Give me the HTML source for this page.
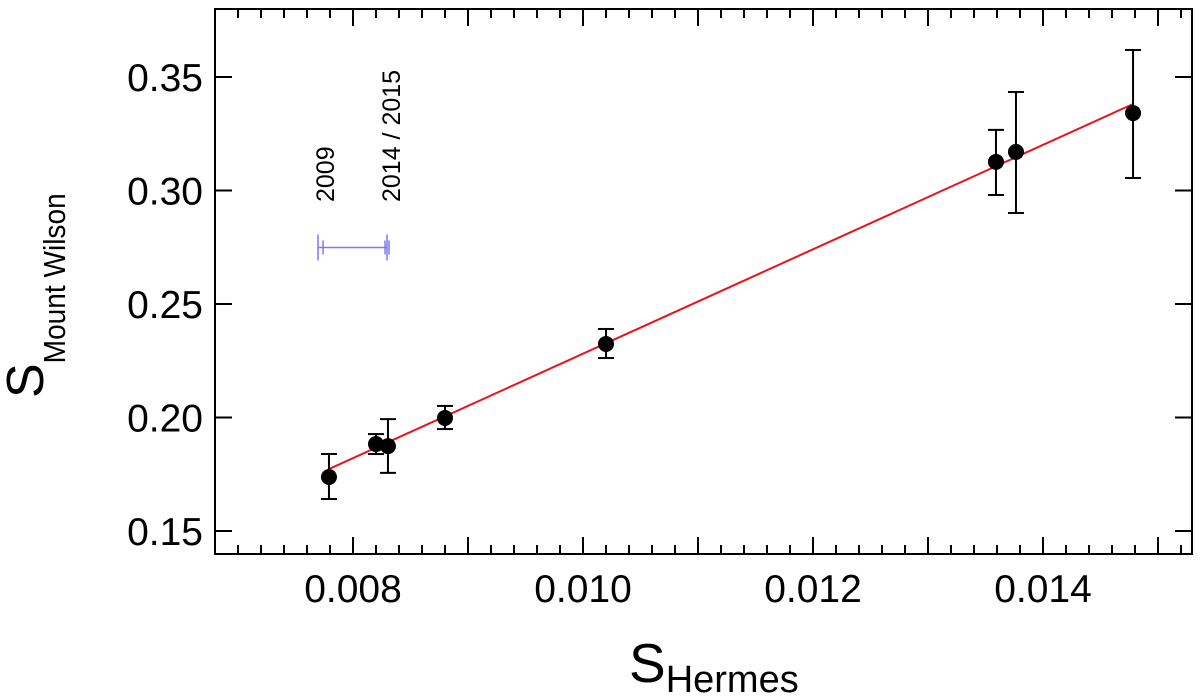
<!DOCTYPE html>
<html><head><meta charset="utf-8"><style>
html,body{margin:0;padding:0;background:#fff;}
svg{display:block;font-family:"Liberation Sans",sans-serif;}
</style></head><body>
<svg id="chart" width="1200" height="698" viewBox="0 0 1200 698" xmlns="http://www.w3.org/2000/svg">
<g id="axes"></g>
<g id="marks"></g>
<g id="annot"></g>
<text x="629" y="682" font-size="55">S<tspan font-size="38" dy="10">Hermes</tspan></text>
<text transform="translate(43,398) rotate(-90)" font-size="52">S<tspan font-size="31" dy="22" textLength="170" lengthAdjust="spacingAndGlyphs">Mount Wilson</tspan></text>
</svg>
<script>
const xVals=[0.007791,0.008200,0.008304,0.008800,0.010200,0.013591,0.013765,0.014783];
const yVals=[0.1738,0.1883,0.1874,0.1998,0.2324,0.3126,0.3170,0.3341];
const yErrHi=[0.1839,0.1927,0.1993,0.2051,0.2390,0.3267,0.3434,0.3619];
const yErrLo=[0.1641,0.1839,0.1756,0.1949,0.2262,0.2980,0.2901,0.3055];
const fitX=[0.007791,0.014783];
const fitY=[0.1773,0.3381];
const xTickVals=[0.008,0.010,0.012,0.014];
const xTickLabels=["0.008","0.010","0.012","0.014"];
const yTickVals=[0.15,0.20,0.25,0.30,0.35];
const yTickLabels=["0.15","0.20","0.25","0.30","0.35"];
const epochX=[0.007696,0.008296];
const epochY=[0.2749];
const epochLabels=["2009","2014 / 2015"];

const L=215,R=1192,T=9,B=554;
const X=v=>353+(v-0.008)/0.001*115;
const Y=v=>531-(v-0.15)/0.05*113.5;
const NS="http://www.w3.org/2000/svg";
function mk(parent,tag,attrs){const e=document.createElementNS(NS,tag);for(const k in attrs)e.setAttribute(k,attrs[k]);parent.appendChild(e);return e;}
const ax=document.getElementById('axes'),mg=document.getElementById('marks'),an=document.getElementById('annot');

let f=mk(ax,'rect',{x:L,y:T,width:R-L,height:B-T,fill:'none',stroke:'#000','stroke-width':2});


for(let px=238;px<R;px+=23){
  const major=px>=353&&((px-353)%115===0);
  const len=major?17:9;
  let t=mk(ax,'line',{x1:px,x2:px,y1:B,y2:B-len,stroke:'#000','stroke-width':2});
  
  
  let t2=mk(ax,'line',{x1:px,x2:px,y1:T,y2:T+len,stroke:'#000','stroke-width':2});
  
  
}
xTickVals.forEach((v,i)=>{
  let t=mk(ax,'text',{x:X(v),y:602,'font-size':39,'text-anchor':'middle'});
  t.textContent=xTickLabels[i];
  
  
});
yTickVals.forEach((v,i)=>{
  let t=mk(ax,'line',{x1:L,x2:L+17,y1:Y(v),y2:Y(v),stroke:'#000','stroke-width':2});
  
  
  let t2=mk(ax,'line',{x1:R,x2:R-17,y1:Y(v),y2:Y(v),stroke:'#000','stroke-width':2});
  
  
  let l=mk(ax,'text',{x:203,y:Y(v)+14,'font-size':39,'text-anchor':'end'});
  l.textContent=yTickLabels[i];
  
  
});
let fl=mk(mg,'line',{x1:X(fitX[0]),y1:Y(fitY[0]),x2:X(fitX[1]),y2:Y(fitY[1]),stroke:'#e8141c','stroke-width':2});


xVals.forEach((v,i)=>{
  const cx=X(v);
  const g=mk(mg,'g',{});
  
  
  mk(g,'line',{x1:cx,x2:cx,y1:Y(yErrHi[i]),y2:Y(yErrLo[i]),stroke:'#000','stroke-width':2});
  mk(g,'line',{x1:cx-8,x2:cx+8,y1:Y(yErrHi[i]),y2:Y(yErrHi[i]),stroke:'#000','stroke-width':2});
  mk(g,'line',{x1:cx-8,x2:cx+8,y1:Y(yErrLo[i]),y2:Y(yErrLo[i]),stroke:'#000','stroke-width':2});
  mk(g,'circle',{cx:cx,cy:Y(yVals[i]),r:8,fill:'#000'});
});
const ey=Y(epochY[0]),ex0=X(epochX[0]),ex1=X(epochX[1]);
const bc='#7b7bef';
let el=mk(an,'line',{x1:ex0,x2:ex1,y1:ey,y2:ey,stroke:bc,'stroke-width':1.5});


[[ex0,13],[ex0+5,7],[ex1-2,7],[ex1,13],[ex1+2,7]].forEach(([x,h])=>{
  let t=mk(an,'line',{x1:x,x2:x,y1:ey-h,y2:ey+h,stroke:bc,'stroke-width':1.5});
  
  
});
[[ex0+7,epochLabels[0]],[ex1+4,epochLabels[1]]].forEach(([x,s])=>{
  let t=mk(an,'text',{transform:`translate(${x+9},202) rotate(-90)`,'font-size':25});
  t.textContent=s;
  
  
});
</script>
</body></html>
